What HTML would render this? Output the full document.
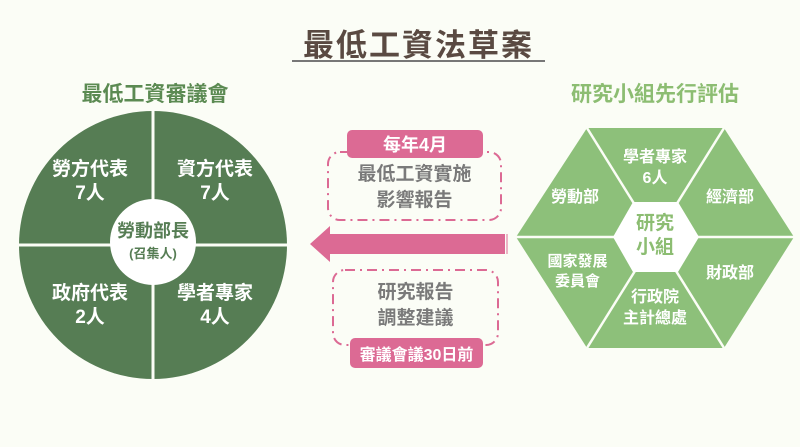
<!DOCTYPE html>
<html><head><meta charset="utf-8"><style>
body{margin:0;width:800px;height:447px;background:#fbfdf6;overflow:hidden;font-family:"Liberation Sans","Noto Sans CJK TC",sans-serif;font-weight:bold}
.t{position:absolute;white-space:nowrap;text-align:center}
</style></head><body>
<div class="t" style="left:292px;top:20px;width:253px;font-size:31px;color:#5a4a42;letter-spacing:2px">最低工資法草案</div>
<div style="position:absolute;left:292px;top:60px;width:253px;height:2px;background:#777"></div>
<div class="t" style="left:40px;top:78px;width:230px;font-size:21px;color:#5b8a52">最低工資審議會</div>
<div class="t" style="left:530px;top:78px;width:250px;font-size:21px;color:#8cbd72">研究小組先行評估</div>
<svg width="800" height="447" style="position:absolute;left:0;top:0">
<circle cx="153" cy="245" r="134" fill="#567d54"/>
<line x1="153" y1="110" x2="153" y2="380" stroke="#fbfdf6" stroke-width="3"/>
<line x1="18" y1="245" x2="288" y2="245" stroke="#fbfdf6" stroke-width="3"/>
<circle cx="153" cy="242" r="43" fill="#fff"/>
<polygon points="516,237 587,128 724,128 794,237 724,348 587,348" fill="#8dc07a"/>
<g stroke="#fbfdf6" stroke-width="2.5">
<line x1="516" y1="237" x2="794" y2="237"/><line x1="587" y1="128" x2="724" y2="348"/><line x1="724" y1="128" x2="587" y2="348"/></g>
<polygon points="613,237 633,202 678,202 699,237 678,272 633,272" fill="#fff"/>
<rect x="347" y="130" width="136" height="28" rx="5" fill="#dc6a94"/>
<rect x="328" y="152" width="173" height="68" rx="12" fill="none" stroke="#dc6a94" stroke-width="2" stroke-dasharray="10,5,2,5"/>
<rect x="333" y="270" width="165" height="75" rx="12" fill="none" stroke="#dc6a94" stroke-width="2" stroke-dasharray="10,5,2,5"/>
<rect x="350" y="338" width="133" height="30" rx="5" fill="#dc6a94"/>
<polygon points="310,244 330,226 330,234 505,234 505,254 330,254 330,262" fill="#dc6a94"/>
<line x1="507" y1="234" x2="507" y2="254" stroke="#dc6a94" stroke-width="1"/>
</svg>
<div class="t" style="left:347px;top:131px;width:136px;font-size:18px;color:#fff">每年4月</div>
<div class="t" style="left:328px;top:162px;width:173px;font-size:19px;line-height:26px;color:#7a7a7a">最低工資實施<br>影響報告</div>
<div class="t" style="left:333px;top:280px;width:165px;font-size:19px;line-height:26px;color:#7a7a7a">研究報告<br>調整建議</div>
<div class="t" style="left:350px;top:341px;width:133px;font-size:16px;color:#fff">審議會議30日前</div>
<div class="t" style="left:38px;top:158px;width:104px;font-size:19px;line-height:24px;color:#fff">勞方代表<br>7人</div>
<div class="t" style="left:163px;top:158px;width:104px;font-size:19px;line-height:24px;color:#fff">資方代表<br>7人</div>
<div class="t" style="left:38px;top:282px;width:104px;font-size:19px;line-height:24px;color:#fff">政府代表<br>2人</div>
<div class="t" style="left:163px;top:282px;width:104px;font-size:19px;line-height:24px;color:#fff">學者專家<br>4人</div>
<div class="t" style="left:103px;top:217px;width:100px;font-size:18px;color:#567d54">勞動部長</div>
<div class="t" style="left:103px;top:243px;width:100px;font-size:13px;color:#567d54">(召集人)</div>
<div class="t" style="left:610px;top:147px;width:90px;font-size:16px;line-height:21px;color:#fff">學者專家<br>6人</div>
<div class="t" style="left:540px;top:183px;width:70px;font-size:16px;color:#fff">勞動部</div>
<div class="t" style="left:695px;top:183px;width:70px;font-size:16px;color:#fff">經濟部</div>
<div class="t" style="left:695px;top:259px;width:70px;font-size:16px;color:#fff">財政部</div>
<div class="t" style="left:538px;top:252px;width:79px;font-size:15px;line-height:20px;color:#fff">國家發展<br>委員會</div>
<div class="t" style="left:610px;top:287px;width:90px;font-size:16px;line-height:21px;color:#fff">行政院<br>主計總處</div>
<div class="t" style="left:620px;top:212px;width:70px;font-size:19px;line-height:24px;color:#8cbd72">研究<br>小組</div>
</body></html>
